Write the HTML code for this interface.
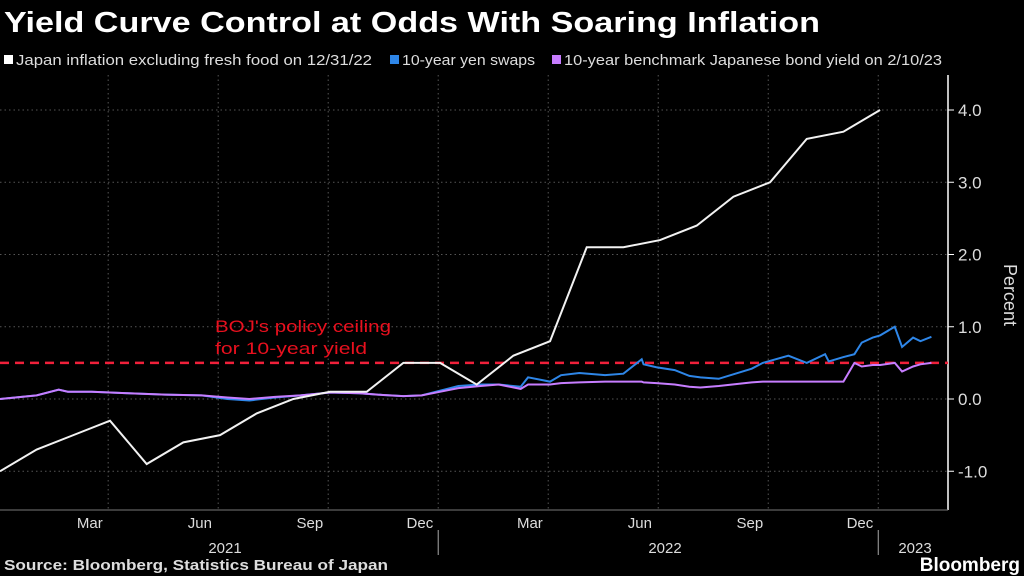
<!DOCTYPE html>
<html><head><meta charset="utf-8"><style>
body{margin:0;background:#000;width:1024px;height:576px;overflow:hidden;font-family:"Liberation Sans",sans-serif;color:#fff}
</style></head><body>
<svg id="c" width="1024" height="576" style="position:absolute;left:0;top:0">
<text x="4" y="32" font-size="29" font-weight="bold" fill="#fff" textLength="816" lengthAdjust="spacingAndGlyphs">Yield Curve Control at Odds With Soaring Inflation</text>
<g font-size="14.5" fill="#ddd">
<rect x="4" y="55" width="9" height="9" fill="#fff"/>
<text x="16" y="65" textLength="356" lengthAdjust="spacingAndGlyphs">Japan inflation excluding fresh food on 12/31/22</text>
<rect x="390" y="55" width="9" height="9" fill="#2e86e8"/>
<text x="402" y="65" textLength="133" lengthAdjust="spacingAndGlyphs">10-year yen swaps</text>
<rect x="552" y="55" width="9" height="9" fill="#c77dff"/>
<text x="564" y="65" textLength="378" lengthAdjust="spacingAndGlyphs">10-year benchmark Japanese bond yield on 2/10/23</text>
</g>
<g id="grid"></g><g id="marks"></g>
<text x="215" y="332" font-size="17" fill="#e8101e" textLength="176" lengthAdjust="spacingAndGlyphs">BOJ's policy ceiling</text>
<text x="215" y="354" font-size="17" fill="#e8101e" textLength="152" lengthAdjust="spacingAndGlyphs">for 10-year yield</text>
<text transform="translate(1004,295) rotate(90)" text-anchor="middle" font-size="18" fill="#ddd">Percent</text>
<text x="4" y="570" font-size="15" font-weight="bold" fill="#ddd" textLength="384" lengthAdjust="spacingAndGlyphs">Source: Bloomberg, Statistics Bureau of Japan</text>
<text x="1020" y="571" text-anchor="end" font-size="19" font-weight="bold" fill="#fff">Bloomberg</text>
</svg>
<script>
const yTicks=[-1,0,1,2,3,4];
const yTickLabels=["-1.0","0.0","1.0","2.0","3.0","4.0"];
const monthLabels=["Mar","Jun","Sep","Dec","Mar","Jun","Sep","Dec"];
const yearLabels=["2021","2022","2023"];
const inflation=[-1.0,-0.7,-0.5,-0.3,-0.9,-0.6,-0.5,-0.2,0.0,0.1,0.1,0.5,0.5,0.2,0.6,0.8,2.1,2.1,2.2,2.4,2.8,3.0,3.6,3.7,4.0];
const ratesT=[0,1,1.6,1.85,2.5,3.5,4.5,5.5,6.2,6.8,7.5,8.2,9,9.8,10.3,11,11.5,12.2,12.5,13.1,13.6,14.2,14.4,15,15.3,15.8,16.5,17,17.5,17.55,17.9,18.4,18.8,19.1,19.6,20.5,20.8,21.5,22,22.5,22.6,23,23.3,23.5,23.8,24,24.4,24.6,24.9,25.1,25.4];
const swaps=[0.0,0.05,0.13,0.1,0.1,0.08,0.06,0.05,0.0,-0.02,0.02,0.05,0.09,0.08,0.06,0.04,0.05,0.14,0.18,0.2,0.2,0.17,0.3,0.24,0.33,0.36,0.33,0.35,0.55,0.48,0.44,0.4,0.32,0.3,0.28,0.42,0.5,0.6,0.5,0.62,0.52,0.58,0.62,0.78,0.85,0.88,1.0,0.72,0.85,0.8,0.86];
const jgb=[0.0,0.05,0.13,0.1,0.1,0.08,0.06,0.05,0.02,0.0,0.03,0.05,0.09,0.08,0.06,0.04,0.05,0.12,0.15,0.18,0.2,0.14,0.2,0.2,0.22,0.23,0.24,0.24,0.24,0.23,0.22,0.2,0.17,0.16,0.18,0.23,0.24,0.24,0.24,0.24,0.24,0.24,0.5,0.45,0.47,0.47,0.5,0.38,0.45,0.48,0.5];
const ceiling=0.5;
const NS="http://www.w3.org/2000/svg";
const X=t=>t*36.67, Y=v=>399-v*72.25;
const grid=document.getElementById('grid'), marks=document.getElementById('marks');
function mk(tag,at,parent){const e=document.createElementNS(NS,tag);for(const k in at)e.setAttribute(k,at[k]);parent.appendChild(e);return e;}
yTicks.forEach((v,i)=>{
 const l=mk('line',{x1:0,x2:948,y1:Y(v),y2:Y(v),stroke:'#555','stroke-dasharray':'1.5 3'},grid);
 
 
 const tk=mk('line',{x1:948,x2:954,y1:Y(v),y2:Y(v),stroke:'#fff'},grid);
 
 
 const t=mk('text',{x:958,y:Y(v)+6,'font-size':17,fill:'#ddd'},grid);t.textContent=yTickLabels[i];
 
 
});
monthLabels.forEach((m,i)=>{
 const gx=X(2.95+3*i);
 const l=mk('line',{x1:gx,x2:gx,y1:75,y2:510,stroke:'#555','stroke-dasharray':'1.5 3'},grid);
 
 
 const t=mk('text',{x:X(2.45+3*i),y:528,'font-size':15,fill:'#ddd','text-anchor':'middle'},grid);t.textContent=m;
 
 
});
const ax=mk('line',{x1:948,x2:948,y1:75,y2:510,stroke:'#fff','stroke-width':1.5},grid);


const bx=mk('line',{x1:0,x2:948,y1:510,y2:510,stroke:'#777'},grid);


[225,665,915].forEach((x,i)=>{const t=mk('text',{x:x,y:553,'font-size':15,fill:'#ddd','text-anchor':'middle'},grid);t.textContent=yearLabels[i];
 
 });
[X(11.95),X(23.95)].forEach(x=>{const l=mk('line',{x1:x,x2:x,y1:530,y2:555,stroke:'#aaa'},grid);
 
 });
const c=mk('line',{x1:0,x2:948,y1:Y(ceiling),y2:Y(ceiling),stroke:'#f0203a','stroke-width':2.5,'stroke-dasharray':'9 6'},marks);


function line(ts,vs,col,name){const p=mk('polyline',{points:vs.map((v,i)=>X(ts[i])+','+Y(v)).join(' '),fill:'none',stroke:col,'stroke-width':2},marks);
 
 }
line(ratesT,swaps,'#2e86e8','swaps-line');
line(ratesT,jgb,'#c77dff','jgb-line');
line(inflation.map((_,i)=>i),inflation,'#f2f2f2','inflation-line');
</script>
</body></html>
